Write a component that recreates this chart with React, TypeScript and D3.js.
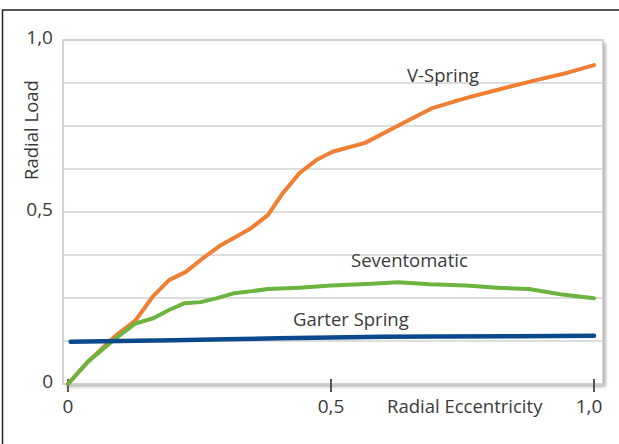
import React from 'react'
import * as d3 from 'd3'

// Radial eccentricity (x) against radial load (y)
const vSpringX = [0, 0.038, 0.088, 0.129, 0.161, 0.192, 0.224, 0.256, 0.288, 0.316, 0.348, 0.38, 0.408, 0.44, 0.472, 0.503, 0.565, 0.63, 0.691, 0.756, 0.821, 0.886, 0.95, 1.0]
const vSpringY = [0, 0.065, 0.137, 0.186, 0.254, 0.302, 0.326, 0.365, 0.401, 0.425, 0.453, 0.491, 0.554, 0.613, 0.651, 0.675, 0.701, 0.753, 0.801, 0.831, 0.857, 0.882, 0.905, 0.927]

const seventoX = [0, 0.038, 0.087, 0.128, 0.162, 0.192, 0.222, 0.252, 0.282, 0.316, 0.35, 0.38, 0.44, 0.5, 0.568, 0.628, 0.688, 0.756, 0.816, 0.876, 0.936, 1.0]
const seventoY = [0, 0.065, 0.128, 0.176, 0.191, 0.215, 0.235, 0.238, 0.249, 0.264, 0.27, 0.276, 0.28, 0.286, 0.291, 0.296, 0.29, 0.286, 0.28, 0.276, 0.261, 0.249]

const garterX = [0.005, 0.1, 0.2, 0.3, 0.4, 0.5, 0.6, 0.7, 0.85, 1.0]
const garterY = [0.123, 0.125, 0.127, 0.13, 0.133, 0.135, 0.137, 0.138, 0.139, 0.14]

const gridValues = [0, 0.125, 0.25, 0.375, 0.5, 0.625, 0.75, 0.875, 1]
const yTicks = [0, 0.5, 1]
const yTickLabels = ['0', '0,5', '1,0']
const xTicks = [0, 0.5, 1]
const xTickLabels = ['0', '0,5', '1,0']

const seriesNames = ['V-Spring', 'Seventomatic', 'Garter Spring']

const W = 619
const H = 444
const font = '"Open Sans", sans-serif'

export default function App () {
  const x = d3.scaleLinear().domain([0, 1]).range([68, 594])
  const y = d3.scaleLinear().domain([0, 1]).range([384, 40])

  const line = d3.line<[number, number]>()
    .x(d => x(d[0]))
    .y(d => y(d[1]))

  const zip = (xs: number[], ys: number[]) => xs.map((v, i) => [v, ys[i]] as [number, number])

  const series = [
    { name: seriesNames[0], pts: zip(vSpringX, vSpringY), color: '#f07f33', width: 4, lx: 407, ly: 82 },
    { name: seriesNames[1], pts: zip(seventoX, seventoY), color: '#6cb33f', width: 4, lx: 351, ly: 267 },
    { name: seriesNames[2], pts: zip(garterX, garterY), color: '#0a4a8c', width: 4.5, lx: 293, ly: 326 }
  ]

  const left = 63
  const right = 603
  const top = y(1)
  const bottom = y(0)

  return (
    <svg width={W} height={H} style={{ position: 'absolute', left: 0, top: 0, background: '#fff' }}>
      <defs>
        <filter id="shadow" x="-5%" y="-5%" width="110%" height="110%">
          <feGaussianBlur stdDeviation="1.5" />
        </filter>
      </defs>
      {/* outer frame */}
      <rect x={2.5} y={10} width={W + 10} height={H + 10} fill="none" stroke="#222" strokeWidth={1.5} />

      {/* plot area with shadow */}
      <rect x={left + 3} y={top + 3} width={right - left} height={bottom - top} fill="#b8b8b8" filter="url(#shadow)" />
      <rect x={left} y={top} width={right - left} height={bottom - top} fill="#fff" stroke="#c4c4c4" strokeWidth={1.5} />

      {gridValues.map(v => (
        <line key={v} x1={left} x2={right} y1={y(v)} y2={y(v)} stroke="#d2d2d2" strokeWidth={1.5} />
      ))}

      {/* y tick labels */}
      {yTicks.map((v, i) => (
        <text key={v} x={53} y={y(v) + 4} textAnchor="end" fontFamily={font} fontSize={19} fill="#3a3a3a">{yTickLabels[i]}</text>
      ))}

      {/* x ticks */}
      {xTicks.map((v, i) => (
        <g key={v}>
          <line x1={x(v)} x2={x(v)} y1={379} y2={392} stroke="#555" strokeWidth={2} />
          <text x={x(v) - (i === 2 ? 5 : 0)} y={413} textAnchor="middle" fontFamily={font} fontSize={19} fill="#3a3a3a">{xTickLabels[i]}</text>
        </g>
      ))}

      <text x={387} y={413} fontFamily={font} fontSize={18.5} fill="#3a3a3a">Radial Eccentricity</text>
      <text transform="translate(38,130) rotate(-90)" textAnchor="middle" fontFamily={font} fontSize={18.5} fill="#3a3a3a">Radial Load</text>

      {series.map(s => (
        <path key={s.name} d={line(s.pts) || ''} fill="none" stroke={s.color} strokeWidth={s.width} strokeLinejoin="round" strokeLinecap="round" />
      ))}

      {series.map(s => (
        <text key={s.name + '-label'} x={s.lx} y={s.ly} fontFamily={font} fontSize={18.5} fill="#3a3a3a">{s.name}</text>
      ))}
    </svg>
  )
}
